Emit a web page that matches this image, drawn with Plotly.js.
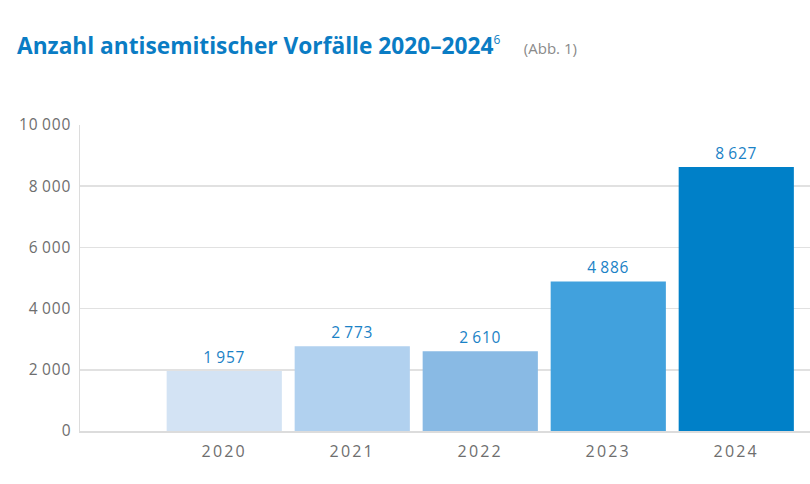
<!DOCTYPE html>
<html>
<head>
<meta charset="utf-8">
<script src="https://cdn.plot.ly/plotly-3.0.1.min.js"></script>
<style>
  html, body { margin: 0; padding: 0; background: #fff; }
  #plot { width: 810px; height: 484px; }
  /* the original uses tracked (letter-spaced) numerals */
  #plot .xtick text { letter-spacing: 2.2px; }
  #plot .ytick text { letter-spacing: 0.9px; }
  #plot text.bartext { letter-spacing: 0.8px; }
</style>
</head>
<body>
<div id="plot"></div>
<script>
// Anzahl antisemitischer Vorfälle, RIAS Jahresbericht
const years = ['2020', '2021', '2022', '2023', '2024'];
const incidents = [1957, 2773, 2610, 4886, 8627];
const barColors = ['#d3e3f4', '#b1d1ef', '#89bae4', '#41a1dd', '#0080c8'];
const yTicks = [0, 2000, 4000, 6000, 8000, 10000];

const trace = {
  x: years,
  y: incidents,
  type: 'bar',
  width: 0.9,
  marker: { color: barColors },
  texttemplate: '%{y:,}',
  textposition: 'outside',
  cliponaxis: false,
  textfont: { family: 'Open Sans, sans-serif', size: 15.5, color: '#1a82c6' },
  hoverinfo: 'x+y',
};

const layout = {
  width: 810,
  height: 484,
  margin: { l: 80, r: 0, t: 125, b: 53 },
  paper_bgcolor: '#fff',
  plot_bgcolor: '#fff',
  separators: '.\u2009',
  showlegend: false,
  font: { family: 'Open Sans, sans-serif', color: '#6e6e6e' },
  title: {
    text: 'Anzahl antisemitischer Vorfälle 2020\u20132024' +
      '<sup><span style="font-weight:normal;font-size:12px">6</span></sup>' +
      '    <span style="font-weight:normal;font-size:15px;color:#8a8a8a">(Abb.\u00a01)</span>',
    x: 17 / 810,
    xref: 'container',
    xanchor: 'left',
    y: 1 - 46 / 484,
    yref: 'container',
    yanchor: 'middle',
    font: { family: 'Open Sans, sans-serif', size: 22.7, color: '#0a7cc4', weight: 'bold' },
  },
  xaxis: {
    type: 'category',
    range: [-1.127, 4.576],
    showgrid: false,
    showline: true,
    linecolor: '#dcdcdc',
    linewidth: 1.5,
    ticks: '',
    ticklabelstandoff: 5,
    tickfont: { size: 16, color: '#6e6e6e' },
    fixedrange: true,
  },
  yaxis: {
    range: [0, 10000],
    tickvals: yTicks,
    tickformat: ',',
    showgrid: true,
    gridcolor: '#e1e1e1',
    gridwidth: 1.5,
    showline: true,
    linecolor: '#dcdcdc',
    linewidth: 1.5,
    zeroline: false,
    ticks: '',
    ticklabelstandoff: 4,
    tickfont: { size: 15.5, color: '#6e6e6e' },
    fixedrange: true,
  },
};

Plotly.newPlot('plot', [trace], layout, { displayModeBar: false, staticPlot: true });
</script>
</body>
</html>
